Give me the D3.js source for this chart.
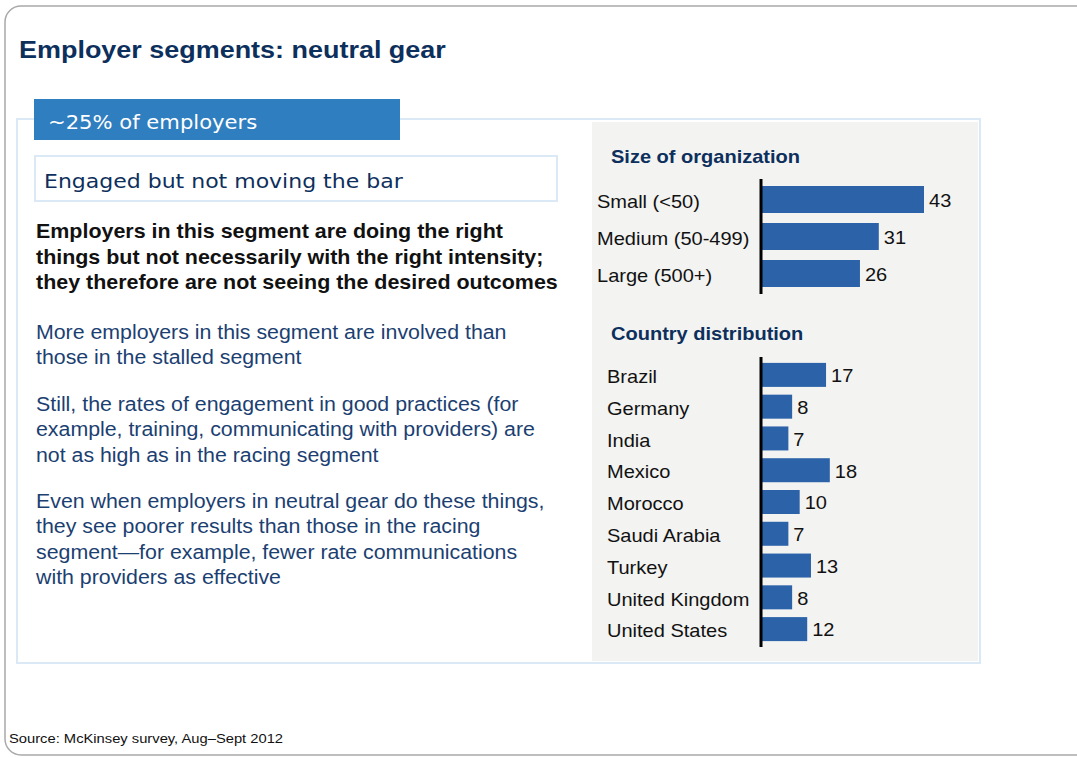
<!DOCTYPE html>
<html>
<head>
<meta charset="utf-8">
<script src="https://cdn.jsdelivr.net/npm/d3@7"></script>
<style>
  body { margin: 0; background: #fff; }
  svg { display: block; font-family: "Liberation Sans", Arial, sans-serif; }
</style>
</head>
<body>
<svg id="chart" width="1077" height="758"></svg>
<script>
// Size of organization
var sizeLabels = ["Small (<50)", "Medium (50-499)", "Large (500+)"];
var sizeValues = [43, 31, 26];

// Country distribution
var countryLabels = ["Brazil", "Germany", "India", "Mexico", "Morocco", "Saudi Arabia", "Turkey", "United Kingdom", "United States"];
var countryValues = [17, 8, 7, 18, 10, 7, 13, 8, 12];

// Text blocks
var boldLines = [
    "Employers in this segment are doing the right",
    "things but not necessarily with the right intensity;",
    "they therefore are not seeing the desired outcomes"
];
var paragraphs = [
    ["More employers in this segment are involved than", "those in the stalled segment"],
    ["Still, the rates of engagement in good practices (for", "example, training, communicating with providers) are", "not as high as in the racing segment"],
    ["Even when employers in neutral gear do these things,", "they see poorer results than those in the racing", "segment\u2014for example, fewer rate communications", "with providers as effective"]
];

var navy = "#0d2f5c",
    barColor = "#2b62a8";

// the slide text is a little wider than the font, stretch it a bit
var sx = 1.1;
function place(x, y) {
    return "translate(" + x + "," + y + ") scale(" + sx + ",1)";
}

var svg = d3.select("#chart");

// Outer card
svg.append("rect")
    .attr("x", 5).attr("y", 6)
    .attr("width", 1090).attr("height", 749)
    .attr("rx", 16)
    .attr("fill", "#fff")
    .attr("stroke", "#a9a9a9")
    .attr("stroke-width", 1.5);

// Title
svg.append("text")
    .attr("transform", place(19, 58))
    .attr("fill", navy)
    .style("font-size", "24.5px")
    .style("font-weight", "bold")
    .text("Employer segments: neutral gear");

// Main panel
svg.append("rect")
    .attr("x", 17).attr("y", 119)
    .attr("width", 963).attr("height", 544)
    .attr("fill", "#fff")
    .attr("stroke", "#dbe8f5")
    .attr("stroke-width", 2);

// Grey panel on the right
svg.append("rect")
    .attr("x", 592).attr("y", 122)
    .attr("width", 386).attr("height", 539)
    .attr("fill", "#f3f3f2");

// Blue tab
svg.append("rect")
    .attr("x", 34).attr("y", 99)
    .attr("width", 366).attr("height", 41)
    .attr("fill", "#2f7ebf");
svg.append("text")
    .attr("transform", place(48, 129))
    .attr("fill", "#fff")
    .style("font-family", "'DejaVu Sans', Verdana, sans-serif")
    .style("font-size", "19.2px")
    .text("~25% of employers");

// Subtitle box
svg.append("rect")
    .attr("x", 35).attr("y", 156)
    .attr("width", 522).attr("height", 45)
    .attr("fill", "#fff")
    .attr("stroke", "#dbe8f5")
    .attr("stroke-width", 2);
svg.append("text")
    .attr("transform", place(44, 188))
    .attr("fill", navy)
    .style("font-family", "'DejaVu Sans', Verdana, sans-serif")
    .style("font-size", "20px")
    .text("Engaged but not moving the bar");

// Bold paragraph
svg.append("g").selectAll("text")
    .data(boldLines)
    .join("text")
    .attr("transform", function (d, i) { return place(36, 238 + i * 25.5); })
    .attr("fill", "#111")
    .style("font-size", "19.5px")
    .style("font-weight", "bold")
    .text(function (d) { return d; });

// Blue paragraphs
var paraTops = [339, 411, 508];
paragraphs.forEach(function (lines, p) {
    svg.append("g").selectAll("text")
        .data(lines)
        .join("text")
        .attr("transform", function (d, i) { return place(36, paraTops[p] + i * 25.3); })
        .attr("fill", "#1c3f72")
        .style("font-size", "19.4px")
        .text(function (d) { return d; });
});

// Shared value scale for both bar groups
var x = d3.scaleLinear().domain([0, 43]).range([762, 924]);

// Bar chart builder
function barGroup(title, titleY, labels, values, top, bottom, labelX, barH) {
    svg.append("text")
        .attr("transform", place(611, titleY))
        .attr("fill", navy)
        .style("font-size", "18.2px")
        .style("font-weight", "bold")
        .text(title);

    var y = d3.scaleBand()
        .domain(labels)
        .range([top, bottom]);

    var g = svg.append("g");

    g.selectAll("rect")
        .data(labels)
        .join("rect")
        .attr("x", x(0))
        .attr("y", function (d) { return y(d) + (y.bandwidth() - barH) / 2; })
        .attr("width", function (d, i) { return x(values[i]) - x(0); })
        .attr("height", barH)
        .attr("fill", barColor);

    // category labels
    g.selectAll("text.cat")
        .data(labels)
        .join("text")
        .attr("class", "cat")
        .attr("transform", function (d) { return place(labelX, y(d) + y.bandwidth() / 2); })
        .attr("dy", "0.45em")
        .attr("fill", "#111")
        .style("font-size", "18.2px")
        .text(function (d) { return d; });

    // value labels
    g.selectAll("text.val")
        .data(labels)
        .join("text")
        .attr("class", "val")
        .attr("transform", function (d, i) { return place(x(values[i]) + 5, y(d) + y.bandwidth() / 2); })
        .attr("dy", "0.4em")
        .attr("fill", "#111")
        .style("font-size", "18.2px")
        .text(function (d, i) { return values[i]; });

    // axis line
    g.append("line")
        .attr("x1", x(0) - 1).attr("x2", x(0) - 1)
        .attr("y1", top - 2).attr("y2", bottom + 2)
        .attr("stroke", "#000")
        .attr("stroke-width", 3);
}

barGroup("Size of organization", 163, sizeLabels, sizeValues, 181, 292, 597, 27);
barGroup("Country distribution", 340, countryLabels, countryValues, 359, 645, 607, 24);

// Source note
svg.append("text")
    .attr("transform", place(9, 743))
    .attr("fill", "#111")
    .style("font-size", "13.4px")
    .text("Source: McKinsey survey, Aug\u2013Sept 2012");
</script>
</body>
</html>
